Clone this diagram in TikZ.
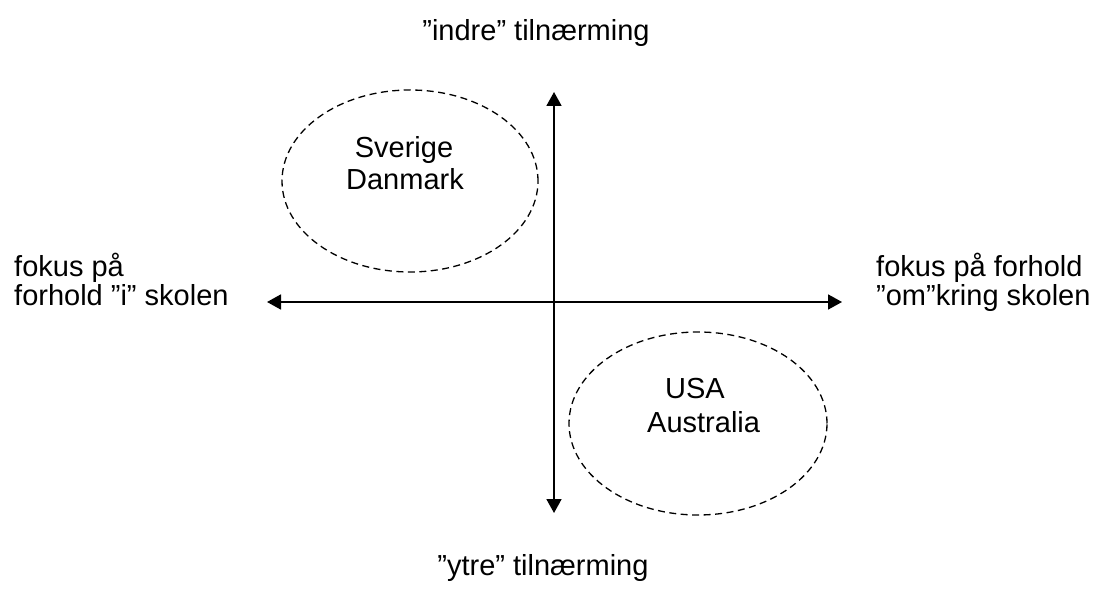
\documentclass[tikz,border=0pt]{standalone}
\usepackage{fontspec}
\setmainfont{Liberation Sans}
\usetikzlibrary{arrows.meta}
\begin{document}
\begin{tikzpicture}[x=1pt,y=1pt,
  lbl/.style={inner sep=0pt,font=\fontsize{29}{33}\selectfont},
  axis/.style={line width=1.8pt,{Triangle[length=14pt,width=15pt]}-{Triangle[length=14pt,width=15pt]}},
  group/.style={draw,line width=1.3pt,dash pattern=on 7pt off 4.5pt}]
\useasboundingbox (0,0) rectangle (1100,592);
% axes
\coordinate (top) at (554,500);
\coordinate (bottom) at (554,79);
\coordinate (left) at (267,290);
\coordinate (right) at (842,290);
\draw[axis] (bottom) -- (top);
\draw[axis] (left) -- (right);
% groups
\draw[group] (410,411) ellipse [x radius=128, y radius=91];
\draw[group] (698,168.5) ellipse [x radius=129, y radius=91.5];
% labels
\node[lbl,anchor=base] (indre) at (536,551) {”indre” tilnærming};
\node[lbl,anchor=base] (ytre) at (543,17) {”ytre” tilnærming};
\node[lbl,anchor=base west] (l1) at (14,315) {fokus på};
\node[lbl,anchor=base west] (l2) at (14,286) {forhold ”i” skolen};
\node[lbl,anchor=base west] (r1) at (876,315) {fokus på forhold};
\node[lbl,anchor=base west] (r2) at (876,286) {”om”kring skolen};
\node[lbl,anchor=base] (sverige) at (404,434) {Sverige};
\node[lbl,anchor=base] (danmark) at (405,402) {Danmark};
\node[lbl,anchor=base west] (usa) at (665,193) {USA};
\node[lbl,anchor=base west] (australia) at (647,159) {Australia};
\end{tikzpicture}
\end{document}
